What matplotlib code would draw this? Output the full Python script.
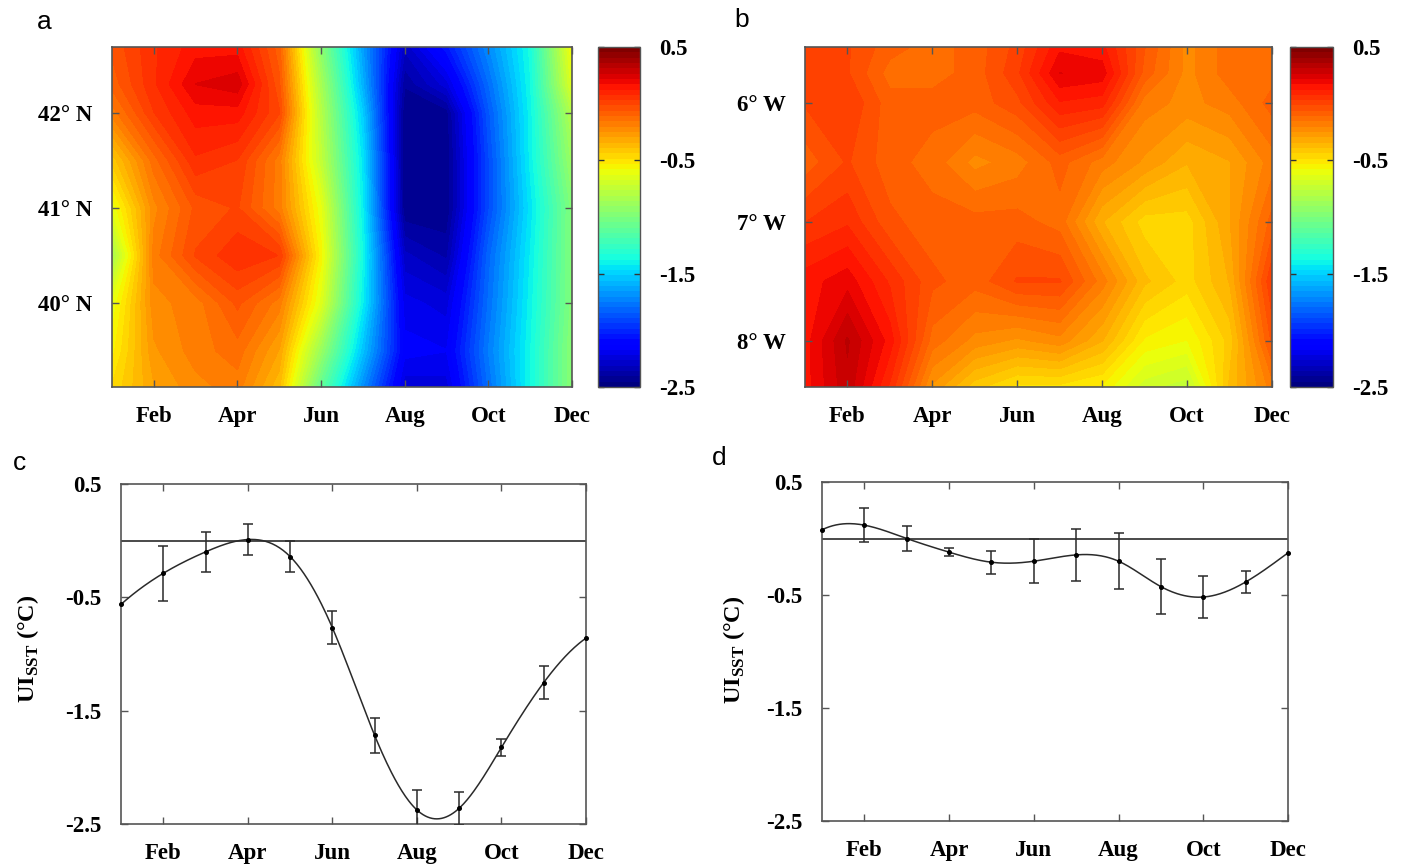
import numpy as np
import matplotlib
matplotlib.use("Agg")
import matplotlib.pyplot as plt
from matplotlib.colors import Normalize

plt.rcParams['mathtext.fontset'] = 'custom'
plt.rcParams['mathtext.rm'] = 'Liberation Serif:bold'
plt.rcParams['mathtext.bf'] = 'Liberation Serif:bold'
plt.rcParams['axes.unicode_minus'] = False

# ---------------- data ----------------
months = [1, 2, 3, 4, 5, 6, 7, 8, 9, 10, 11, 12]
tick_months = [2, 4, 6, 8, 10, 12]
tick_labels = ['Feb', 'Apr', 'Jun', 'Aug', 'Oct', 'Dec']

# panel a: latitude (deg N) x month (Jan..Dec)
lat_a = [39.12, 39.5, 40.0, 40.5, 41.0, 41.5, 42.0, 42.3, 42.69]
ui_a_3912 = [-0.48, -0.30, -0.22, -0.18, -0.38, -1.10, -1.70, -2.25, -2.24, -1.79, -1.38, -0.95]
ui_a_3950 = [-0.55, -0.26, -0.18, -0.13, -0.30, -0.90, -1.55, -2.15, -2.17, -1.75, -1.38, -0.95]
ui_a_4000 = [-0.62, -0.22, -0.18, -0.05, -0.18, -0.65, -1.42, -2.20, -2.24, -1.79, -1.40, -0.98]
ui_a_4050 = [-0.85, -0.18, -0.01, 0.07, 0.03, -0.56, -1.38, -2.30, -2.37, -1.82, -1.42, -0.98]
ui_a_4100 = [-0.62, -0.22, -0.05, -0.01, -0.18, -0.62, -1.42, -2.45, -2.45, -1.90, -1.45, -0.98]
ui_a_4150 = [-0.42, -0.13, 0.07, 0.03, -0.18, -0.75, -1.45, -2.45, -2.45, -1.90, -1.41, -0.89]
ui_a_4200 = [-0.18, 0.03, 0.15, 0.15, -0.01, -0.80, -1.52, -2.45, -2.43, -1.86, -1.40, -0.80]
ui_a_4230 = [-0.09, 0.07, 0.22, 0.25, -0.05, -0.85, -1.60, -2.40, -2.24, -1.80, -1.38, -0.65]
ui_a_4269 = [-0.05, 0.07, 0.15, 0.15, -0.09, -0.95, -1.65, -2.30, -2.05, -1.71, -1.36, -0.57]
lat_ticks = [40, 41, 42]
lat_labels = ['40° N', '41° N', '42° N']

# panel b: longitude (deg, negative = W) x month (Jan..Dec)
lon_b = [-8.39, -8.0, -7.5, -7.0, -6.5, -6.0, -5.75, -5.53]
ui_b_839 = [0.15, 0.30, 0.07, -0.26, -0.42, -0.50, -0.50, -0.54, -0.70, -0.75, -0.38, -0.18]
ui_b_800 = [0.15, 0.32, 0.15, -0.13, -0.22, -0.26, -0.22, -0.34, -0.54, -0.58, -0.42, -0.05]
ui_b_750 = [0.15, 0.20, 0.07, -0.05, -0.09, -0.01, -0.01, -0.18, -0.38, -0.46, -0.34, 0.03]
ui_b_700 = [0.03, 0.07, -0.05, -0.09, -0.09, -0.09, -0.13, -0.34, -0.46, -0.46, -0.30, -0.09]
ui_b_650 = [-0.09, -0.01, -0.09, -0.13, -0.22, -0.18, -0.09, -0.18, -0.26, -0.34, -0.30, -0.18]
ui_b_600 = [-0.01, 0.03, -0.09, -0.09, -0.09, -0.03, 0.12, 0.10, -0.18, -0.22, -0.18, -0.09]
ui_b_575 = [-0.01, -0.01, -0.13, -0.13, -0.09, 0.02, 0.22, 0.20, -0.08, -0.22, -0.13, -0.13]
ui_b_553 = [-0.01, -0.01, -0.09, -0.13, -0.09, 0.00, 0.16, 0.14, -0.06, -0.22, -0.13, -0.13]
lon_ticks = [-8, -7, -6]
lon_labels = ['8° W', '7° W', '6° W']

# panel c: monthly UI_SST (latitudinal), error bars Feb..Nov
ui_c = [-0.562, -0.288, -0.099, 0.010, -0.140, -0.768, -1.718, -2.376, -2.361, -1.824, -1.252, -0.860]
err_months = [2, 3, 4, 5, 6, 7, 8, 9, 10, 11]
err_c = [0.245, 0.177, 0.140, 0.133, 0.145, 0.152, 0.180, 0.147, 0.074, 0.143]

# panel d: monthly UI_SST (longitudinal)
ui_d = [0.077, 0.118, 0.000, -0.121, -0.210, -0.201, -0.145, -0.201, -0.426, -0.518, -0.385, -0.127]
err_d = [0.150, 0.110, 0.034, 0.100, 0.197, 0.231, 0.250, 0.243, 0.188, 0.095]

cbar_ticks = [0.5, -0.5, -1.5, -2.5]
cbar_labels = ['0.5', '-0.5', '-1.5', '-2.5']

# ---------------- helpers ----------------
def spline_curve(x, y, num=400):
    x = np.asarray(x, float); y = np.asarray(y, float)
    n = len(x); h = np.diff(x)
    A = np.zeros((n, n)); b = np.zeros(n)
    for i in range(1, n - 1):
        A[i, i - 1] = h[i - 1]; A[i, i] = 2 * (h[i - 1] + h[i]); A[i, i + 1] = h[i]
        b[i] = 6 * ((y[i + 1] - y[i]) / h[i] - (y[i] - y[i - 1]) / h[i - 1])
    A[0, 0] = -1 / h[0]; A[0, 1] = 1 / h[0] + 1 / h[1]; A[0, 2] = -1 / h[1]
    A[-1, -3] = -1 / h[-2]; A[-1, -2] = 1 / h[-2] + 1 / h[-1]; A[-1, -1] = -1 / h[-1]
    M = np.linalg.solve(A, b)
    xs = np.linspace(x[0], x[-1], num)
    idx = np.clip(np.searchsorted(x, xs) - 1, 0, n - 2)
    x0 = x[idx]; x1 = x[idx + 1]; hh = x1 - x0
    ys = (M[idx] * (x1 - xs) ** 3 / (6 * hh) + M[idx + 1] * (xs - x0) ** 3 / (6 * hh)
          + (y[idx] / hh - M[idx] * hh / 6) * (x1 - xs)
          + (y[idx + 1] / hh - M[idx + 1] * hh / 6) * (xs - x0))
    return xs, ys

SERIF = 'Liberation Serif'
TFS = 16.5
SPINE = '#555555'
INK = '#2a2a2a'

cmap = plt.get_cmap('jet', 64)
levels = np.linspace(-2.5, 0.5, 65)

def bold_labels(ax):
    for lab in ax.get_xticklabels() + ax.get_yticklabels():
        lab.set_fontfamily(SERIF); lab.set_fontweight('bold')

def style_ax(ax):
    for s in ax.spines.values():
        s.set_color(SPINE); s.set_linewidth(1.2)
    ax.tick_params(direction='in', length=5, width=1, color=SPINE,
                   top=True, right=True, labelsize=TFS, pad=14)
    bold_labels(ax)

def heat(ax, cax, Z, yvals, yt, yl):
    norm = Normalize(vmin=-2.5, vmax=0.5)
    ax.contourf(months, yvals, Z, levels=levels, cmap=cmap, norm=norm,
                extend='both', antialiased=False)
    ax.set_xlim(1, 12); ax.set_ylim(yvals[0], yvals[-1])
    ax.set_xticks(tick_months, tick_labels)
    ax.set_yticks(yt, yl)
    style_ax(ax)
    sm = matplotlib.cm.ScalarMappable(norm=Normalize(vmin=-2.5, vmax=0.5), cmap=cmap)
    cb = fig.colorbar(sm, cax=cax)
    cb.outline.set_edgecolor(SPINE); cb.outline.set_linewidth(1.0)
    cb.set_ticks(cbar_ticks, labels=cbar_labels)
    cax.tick_params(direction='in', length=4, width=1, color='#333333',
                    left=True, right=True, labelsize=TFS, pad=14)
    bold_labels(cax)

def line(ax, vals, errs, lx, ly):
    xs, ys = spline_curve(months, vals)
    ax.axhline(0, color=INK, lw=1.2, zorder=1)
    ax.plot(xs, ys, color=INK, lw=1.1, zorder=2)
    ev = [vals[m - 1] for m in err_months]
    ax.errorbar(err_months, ev, yerr=errs, fmt='none', ecolor=INK,
                elinewidth=1.1, capsize=3.6, capthick=1.1, zorder=3)
    ax.plot(months, vals, 'o', color='black', ms=2.6, zorder=4, clip_on=False)
    ax.set_xlim(1, 12); ax.set_ylim(-2.5, 0.5)
    ax.set_xticks(tick_months, tick_labels)
    ax.set_yticks(cbar_ticks, cbar_labels)
    style_ax(ax)
    ax.set_ylabel(r'$\mathrm{UI}_{\mathrm{SST}}$ (°C)', fontfamily=SERIF,
                  fontweight='bold', fontsize=17.5)
    ax.yaxis.set_label_coords(lx, ly)
    ax.yaxis.label.set_verticalalignment('center')

# ---------------- figure ----------------
fig = plt.figure(figsize=(14.06, 8.66), dpi=100)
W, H = 1406, 866
def rect(l, t, r, b):
    return [l / W, 1 - b / H, (r - l) / W, (b - t) / H]

ax_a = fig.add_axes(rect(112, 47, 572, 387))
cax_a = fig.add_axes(rect(598, 47, 640, 387))
ax_b = fig.add_axes(rect(805, 47, 1272, 387))
cax_b = fig.add_axes(rect(1290, 47, 1333, 387))
ax_c = fig.add_axes(rect(121, 484, 586, 824))
ax_d = fig.add_axes(rect(822, 482, 1288, 821))

Za = np.array([ui_a_3912, ui_a_3950, ui_a_4000, ui_a_4050, ui_a_4100,
               ui_a_4150, ui_a_4200, ui_a_4230, ui_a_4269])
Zb = np.array([ui_b_839, ui_b_800, ui_b_750, ui_b_700, ui_b_650,
               ui_b_600, ui_b_575, ui_b_553])

heat(ax_a, cax_a, Za, lat_a, lat_ticks, lat_labels)
heat(ax_b, cax_b, Zb, lon_b, lon_ticks, lon_labels)
line(ax_c, ui_c, err_c, (28 - 121) / 465, 0.515)
line(ax_d, ui_d, err_d, (734 - 822) / 466, 0.505)

for lbl, x, y in [('a', 44, 22), ('b', 742, 20), ('c', 19, 463), ('d', 719, 458)]:
    fig.text(x / W, 1 - y / H, lbl, fontsize=19, fontfamily='Liberation Sans',
             ha='center', va='center')

fig.savefig('out.png', dpi=100)
